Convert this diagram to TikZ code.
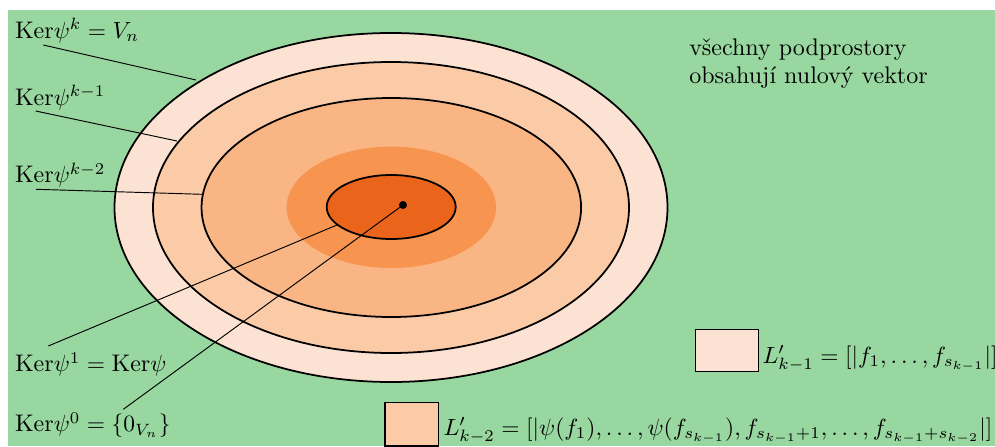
\documentclass[tikz,border=0pt]{standalone}
\usepackage{fontspec}
\usepackage{amsmath}
\definecolor{bggreen}{RGB}{152,216,160}
\definecolor{cA}{RGB}{252,226,210}
\definecolor{cB}{RGB}{251,203,168}
\definecolor{cC}{RGB}{249,181,132}
\definecolor{cD}{RGB}{247,148,79}
\definecolor{cE}{RGB}{235,100,27}
\begin{document}
\begin{tikzpicture}[x=0.015cm,y=-0.015cm,
  ring/.style={draw=black,line width=0.75pt},
  leader/.style={draw=black,line width=0.4pt},
  lbl/.style={anchor=base west,inner sep=0pt,outer sep=0pt,font=\fontsize{10.25}{12.3}\selectfont},
  keybox/.style={draw=black,line width=0.6pt}]
\useasboundingbox (0,0) rectangle (995,446);
\fill[bggreen] (8,10) rectangle (995,446);
% nested subspaces
\path[ring,fill=cA] (391,207.5) ellipse [x radius=276.5, y radius=174.5];
\path[ring,fill=cB] (391,207.5) ellipse [x radius=238, y radius=145.5];
\path[ring,fill=cC] (391.3,207.5) ellipse [x radius=189.8, y radius=109.5];
\fill[cD] (391.3,207.3) ellipse [x radius=104.7, y radius=60.7];
\path[ring,fill=cE] (391.2,207) ellipse [x radius=64.5, y radius=32];
\node[circle,fill=black,inner sep=0pt,minimum size=0.12cm] (dot) at (403,205) {};
% labels
\node[lbl] (k) at (15,38.3) {$\mathrm{Ker}\psi^{k}=V_n$};
\node[lbl] (k1) at (15,105) {$\mathrm{Ker}\psi^{k-1}$};
\node[lbl] (k2) at (15,182.7) {$\mathrm{Ker}\psi^{k-2}$};
\node[lbl] (one) at (15,371.7) {$\mathrm{Ker}\psi^{1}=\mathrm{Ker}\psi$};
\node[lbl] (zero) at (15,431.7) {$\mathrm{Ker}\psi^{0}=\{0_{V_n}\}$};
\node[lbl] (note1) at (689.3,55) {všechny podprostory};
\node[lbl] (note2) at (689.3,83.3) {obsahují nulový vektor};
% leader lines
\coordinate (s1) at (43.3,45);
\coordinate (e1) at (196,80);
\coordinate (s2) at (35.7,111);
\coordinate (e2) at (177,141);
\coordinate (s3) at (36,189.3);
\coordinate (e3) at (202,194.3);
\coordinate (s4) at (48.3,346);
\coordinate (e4) at (337,225);
\coordinate (s5) at (123.3,409.3);
\draw[leader] (s1) -- (e1);
\draw[leader] (s2) -- (e2);
\draw[leader] (s3) -- (e3);
\draw[leader] (s4) -- (e4);
\draw[leader] (s5) -- (dot.center);
% legend
\path[keybox,fill=cA] (695.7,329.3) rectangle (758.3,371.7);
\node[lbl] (leg1) at (762.5,363.3) {$L'_{k-1}=[|f_1,\dots,f_{s_{k-1}}|]$};
\path[keybox,fill=cB] (385,402.7) rectangle (438.3,446);
\node[lbl] (leg2) at (443.5,435) {$L'_{k-2}=[|\psi(f_1),\dots,\psi(f_{s_{k-1}}),f_{s_{k-1}+1},\dots,f_{s_{k-1}+s_{k-2}}|]$};
\end{tikzpicture}
\end{document}
